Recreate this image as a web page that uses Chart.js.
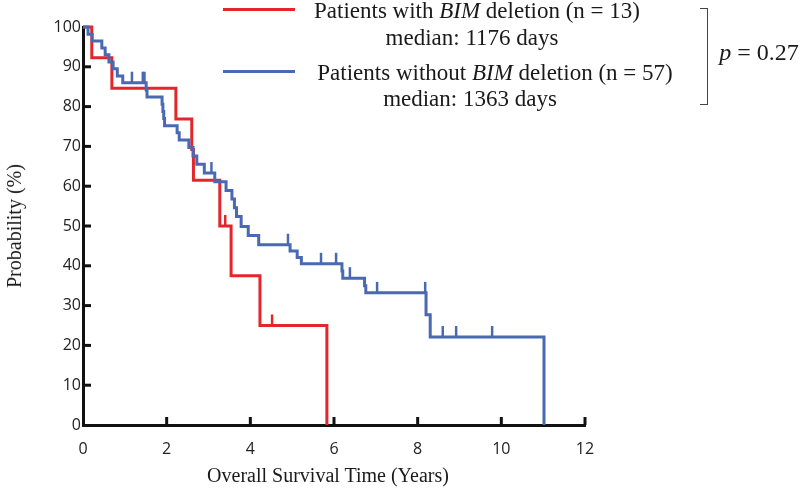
<!DOCTYPE html>
<html>
<head>
<meta charset="utf-8">
<script src="https://cdn.jsdelivr.net/npm/chart.js@4.4.1/dist/chart.umd.min.js"></script>
<style>
  body { margin: 0; background: #fff; }
  #wrap { position: relative; width: 800px; height: 493px; font-family: "Liberation Serif", "Times New Roman", serif; color: #1a1a1a; }
  #km { position: absolute; left: 0; top: 0; }
  .t { position: absolute; white-space: nowrap; line-height: 1; transform: translate(-50%, -50%); }
  .leg { font-size: 23px; }
  .key { position: absolute; height: 3px; width: 72px; left: 223px; }
</style>
</head>
<body>
<div id="wrap">
  <canvas id="km" width="800" height="493"></canvas>

  <div class="key" style="top:8px;background:#e2262c"></div>
  <div class="t leg" style="left:477px;top:10px">Patients with <i>BIM</i> deletion (n = 13)</div>
  <div class="t leg" style="left:472px;top:37px">median: 1176 days</div>
  <div class="key" style="top:70px;background:#4a69b4"></div>
  <div class="t leg" style="left:495px;top:72px">Patients without <i>BIM</i> deletion (n = 57)</div>
  <div class="t leg" style="left:470px;top:98px">median: 1363 days</div>

  <div style="position:absolute;left:700px;top:8px;width:7px;height:95px;border:1.5px solid #444;border-left:none;"></div>
  <div class="t leg" style="left:759px;top:52px;font-size:24px"><i>p</i> = 0.27</div>

  <div class="t" style="left:328px;top:475px;font-size:20px">Overall Survival Time (Years)</div>
  <div class="t" style="left:14px;top:226px;font-size:20px;transform:translate(-50%,-50%) rotate(-90deg)">Probability (%)</div>
</div>

<script>
// Kaplan-Meier steps (years, % surviving)
const redTimes = [0, 0.21, 0.69, 2.22, 2.60, 2.64, 3.27, 3.54, 4.23, 5.83];
const redSurv  = [100, 92.3, 84.6, 76.9, 69.2, 61.5, 50.0, 37.5, 25.0, 0];
const redCensorTimes = [3.40, 4.52];
const redCensorSurv  = [50.0, 25.0];

const blueTimes = [0, 0.12, 0.22, 0.45, 0.53, 0.62, 0.72, 0.82, 0.95, 1.51, 1.53,
                   1.89, 1.91, 1.93, 1.95, 2.25, 2.30, 2.53, 2.63, 2.72, 2.90, 3.15,
                   3.42, 3.56, 3.62, 3.67, 3.78, 3.95, 4.20, 4.95, 5.12, 5.22,
                   6.19, 6.21, 6.73, 6.76, 8.20, 8.30, 11.02];
const blueSurv  = [100, 98.2, 96.5, 94.7, 93.0, 91.2, 89.5, 87.7, 86.0, 84.2, 82.4,
                   80.6, 78.8, 77.0, 75.2, 73.4, 71.6, 69.7, 67.6, 65.5, 63.3, 61.1,
                   58.9, 56.8, 54.6, 52.4, 49.9, 47.6, 45.3, 43.7, 42.1, 40.5,
                   38.7, 36.9, 35.0, 33.2, 27.7, 22.1, 0];
const blueCensorTimes = [1.17, 1.43, 1.47, 3.07, 4.90, 5.69, 6.05, 6.38, 7.03, 8.18, 8.60, 8.92, 9.78];
const blueCensorSurv  = [86.0, 86.0, 86.0, 63.3, 45.3, 40.5, 40.5, 36.9, 33.2, 33.2, 22.1, 22.1, 22.1];

const xTicks = [0, 2, 4, 6, 8, 10, 12];
const yTicks = [0, 10, 20, 30, 40, 50, 60, 70, 80, 90, 100];

const RED = "#e2262c";
const BLUE = "#4a69b4";
const AXIS = "#111";

function toPoints(ts, ss) {
    return ts.map((t, i) => ({ x: t, y: ss[i] }));
}

// censor marks: short upward strokes on the curve
const censorPlugin = {
    id: "censor",
    afterDatasetsDraw(chart) {
        const ctx = chart.ctx;
        const xs = chart.scales.x, ys = chart.scales.y;
        const groups = [
            [redCensorTimes, redCensorSurv, RED],
            [blueCensorTimes, blueCensorSurv, BLUE]
        ];
        ctx.save();
        ctx.lineWidth = 2.5;
        groups.forEach(([ts, ss, col]) => {
            ctx.strokeStyle = col;
            ts.forEach((t, i) => {
                const px = xs.getPixelForValue(t);
                const py = ys.getPixelForValue(ss[i]);
                ctx.beginPath();
                ctx.moveTo(px, py);
                ctx.lineTo(px, py - 11);
                ctx.stroke();
            });
        });
        ctx.restore();
    }
};

// tick marks point into the plot
const innerTicks = {
    id: "innerTicks",
    afterDraw(chart) {
        const ctx = chart.ctx;
        const xs = chart.scales.x, ys = chart.scales.y;
        const area = chart.chartArea;
        ctx.save();
        ctx.strokeStyle = AXIS;
        ctx.lineWidth = 3;
        xTicks.slice(1).forEach(v => {
            const px = xs.getPixelForValue(v);
            ctx.beginPath();
            ctx.moveTo(px, area.bottom);
            ctx.lineTo(px, area.bottom - 8);
            ctx.stroke();
        });
        yTicks.slice(1, -1).forEach(v => {
            const py = ys.getPixelForValue(v);
            ctx.beginPath();
            ctx.moveTo(area.left, py);
            ctx.lineTo(area.left + 8, py);
            ctx.stroke();
        });
        ctx.restore();
    }
};

const tickFont = { family: "'Open Sans', 'DejaVu Sans', sans-serif", size: 16 };

new Chart(document.getElementById("km").getContext("2d"), {
    type: "line",
    data: {
        datasets: [
            {
                data: toPoints(blueTimes, blueSurv),
                borderColor: BLUE,
                borderWidth: 3,
                stepped: "before",
                pointRadius: 0,
                clip: false
            },
            {
                data: toPoints(redTimes, redSurv),
                borderColor: RED,
                borderWidth: 3,
                stepped: "before",
                pointRadius: 0,
                clip: false
            }
        ]
    },
    options: {
        responsive: false,
        animation: false,
        devicePixelRatio: 1,
        layout: { padding: { left: 0, top: 27, right: 215, bottom: 0 } },
        plugins: { legend: { display: false }, tooltip: { enabled: false } },
        scales: {
            x: {
                type: "linear",
                min: 0,
                max: 12,
                afterBuildTicks: s => { s.ticks = xTicks.map(v => ({ value: v })); },
                afterFit: s => { s.height = 68; },
                ticks: { font: tickFont, color: "#222", padding: 15 },
                grid: { display: true, drawOnChartArea: false, drawTicks: false },
                border: { display: true, color: AXIS, width: 3 }
            },
            y: {
                min: 0,
                max: 100,
                afterBuildTicks: s => { s.ticks = yTicks.map(v => ({ value: v })); },
                afterFit: s => { s.width = 83; },
                ticks: { font: tickFont, color: "#222", padding: 2 },
                grid: { display: true, drawOnChartArea: false, drawTicks: false },
                border: { display: true, color: AXIS, width: 3 }
            }
        }
    },
    plugins: [censorPlugin, innerTicks]
});
</script>
</body>
</html>
